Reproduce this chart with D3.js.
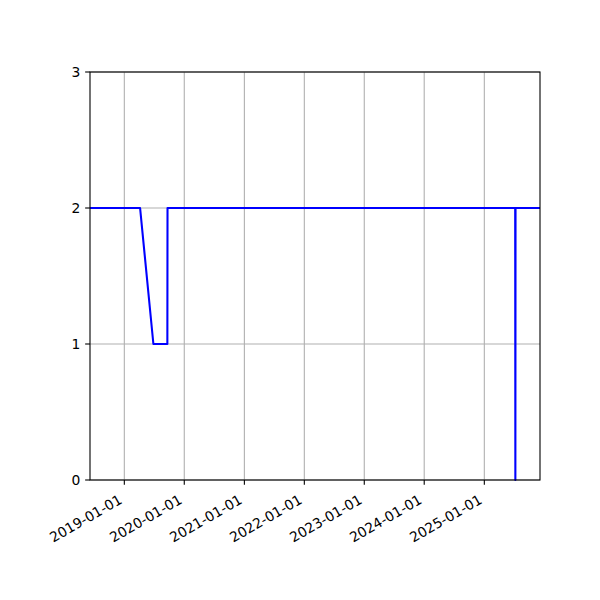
<!DOCTYPE html>
<html><head><meta charset="utf-8">
<script src="https://cdn.jsdelivr.net/npm/d3@7"></script>
<style>body{margin:0;background:#fff}svg{display:block}text{font-family:"DejaVu Sans",sans-serif}</style>
</head><body><svg id="c" width="600" height="600"></svg>
<script>
const dates = ["2018-06-06","2019-04-07","2019-06-27","2019-09-20","2019-09-21","2025-07-08","2025-07-09","2025-07-10","2025-12-06"];
const values = [2,2,1,1,2,2,0,2,2];
const xDomain = ["2018-06-06","2025-12-06"];
const xTicks = ["2019-01-01","2020-01-01","2021-01-01","2022-01-01","2023-01-01","2024-01-01","2025-01-01"];
const yTicks = [0,1,2,3];

const parse = d3.utcParse("%Y-%m-%d");
const L=90,R=540,T=72,B=480;
const svg = d3.select("#c");
const x = d3.scaleUtc().domain(xDomain.map(parse)).range([L,R]);
const y = d3.scaleLinear().domain([0,3]).range([B,T]);

// grid
const g = svg.append("g");
g.selectAll(".gx").data(xTicks).join("line")
  .attr("x1",d=>x(parse(d))).attr("x2",d=>x(parse(d))).attr("y1",T).attr("y2",B)
  .attr("stroke","#b0b0b0").attr("stroke-width",1.1);
g.selectAll(".gy").data(yTicks).join("line")
  .attr("y1",d=>y(d)).attr("y2",d=>y(d)).attr("x1",L).attr("x2",R)
  .attr("stroke","#b0b0b0").attr("stroke-width",1.1);

// line
const pts = dates.map((d,i)=>[parse(d),values[i]]);
svg.append("defs").append("clipPath").attr("id","clip").append("rect").attr("x",L).attr("y",T-2).attr("width",R-L).attr("height",B-T+4);
svg.append("path").datum(pts)
  .attr("d",d3.line().x(d=>x(d[0])).y(d=>y(d[1])))
  .attr("fill","none").attr("stroke","#0000ff").attr("stroke-width",2.08)
  .attr("stroke-linejoin","round").attr("clip-path","url(#clip)");

// spines
svg.append("rect").attr("x",L).attr("y",T).attr("width",R-L).attr("height",B-T)
  .attr("fill","none").attr("stroke","#000").attr("stroke-width",1.1);

// x ticks
const xa = svg.append("g");
xTicks.forEach(t=>{
  const px = x(parse(t));
  xa.append("line").attr("x1",px).attr("x2",px).attr("y1",B).attr("y2",B+4.86).attr("stroke","#000").attr("stroke-width",1.1);
  xa.append("text").attr("transform",`translate(${px-1.2},${502.5}) rotate(-30)`)
    .attr("text-anchor","end").attr("font-size","13.89px").attr("fill","#000").text(t);
});
// y ticks
yTicks.forEach(t=>{
  const py = y(t);
  xa.append("line").attr("x1",L-4.86).attr("x2",L).attr("y1",py).attr("y2",py).attr("stroke","#000").attr("stroke-width",1.1);
  xa.append("text").attr("x",L-4.86-4.86).attr("y",py).attr("dy","0.35em")
    .attr("text-anchor","end").attr("font-size","13.89px").attr("fill","#000").text(t);
});
</script></body></html>
